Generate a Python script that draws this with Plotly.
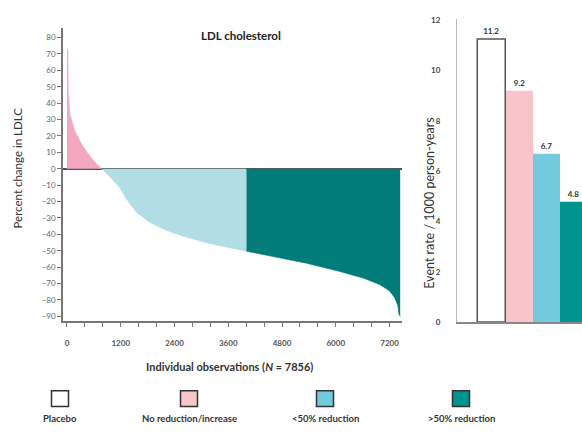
import plotly.graph_objects as go

# ---- Left panel: waterfall of percent change in LDLC ----
pink_obs = [0, 20, 30, 67, 178, 328, 475, 624, 773]
pink_pct = [73.7, 72, 47, 33, 23, 15, 9, 4, 0]

lblue_obs = [773, 959, 1181, 1331, 1554, 1850, 2222, 2668, 3188, 3707, 4006]
lblue_pct = [0, -4.9, -11.8, -18.8, -26.7, -32.7, -37.7, -41.7, -45.7, -48.7, -50.3]

teal_obs = [4006, 4599, 5343, 6086, 6605, 6977, 7200, 7312, 7386, 7408, 7438]
teal_pct = [-50.3, -53.6, -57.6, -62.6, -66.6, -70.6, -74.5, -78.5, -83.5, -88.5, -90]

x_tick_labels = [0, 1200, 2400, 3600, 4800, 6000, 7200]

# ---- Right panel: event rates ----
groups = ["Placebo", "No reduction/increase", "<50% reduction", ">50% reduction"]
event_rates = [11.2, 9.2, 6.7, 4.8]
legend_labels = ["Placebo", "No reduction/increase", "&lt;50% reduction", "&gt;50% reduction"]

FONT = "Lato"

fig = go.Figure()

area_styles = [
    (pink_obs, pink_pct, "#F4A8BF"),
    (lblue_obs, lblue_pct, "#B1DEE5"),
    (teal_obs, teal_pct, "#017C79"),
]
for xs, ys, col in area_styles:
    fig.add_trace(go.Scatter(
        x=xs, y=ys, mode="lines", fill="tozeroy",
        line=dict(width=0.5, color=col), fillcolor=col,
        xaxis="x", yaxis="y", hoverinfo="skip", showlegend=False))

bar_fill = ["#FFFFFF", "#F7C5CA", "#72CADC", "#00948F"]
fig.add_trace(go.Bar(
    x=groups, y=event_rates, xaxis="x2", yaxis="y2", width=1,
    marker=dict(color=bar_fill,
                line=dict(color=["#555555", "rgba(0,0,0,0)", "rgba(0,0,0,0)", "rgba(0,0,0,0)"],
                          width=[1.5, 0, 0, 0])),
    text=[f"{v:.1f}" for v in event_rates], textposition="outside",
    textfont=dict(family=FONT, size=8, color="#333333", weight="bold"),
    cliponaxis=False, showlegend=False, hoverinfo="skip"))

W, H = 582, 436

def px_x(p):
    return p / W

def px_y(p):
    return 1 - p / H

fig.update_layout(
    width=W, height=H, margin=dict(l=0, r=0, t=0, b=0),
    paper_bgcolor="white", plot_bgcolor="white", showlegend=False,
    font=dict(family=FONT, color="#333333"),
    bargap=0,
    xaxis=dict(domain=[px_x(63), px_x(401.7)], range=[-89, 7472], anchor="y",
               showline=True, linecolor="#777777", linewidth=1.5,
               tickmode="array", tickvals=x_tick_labels, ticks="outside", ticklen=4,
               tickcolor="#777777", tickwidth=1,
               minor=dict(dtick=400, tick0=0, ticks="outside", ticklen=4,
                          tickcolor="#777777", showgrid=False),
               showgrid=False, zeroline=False, ticklabelstandoff=9,
               tickfont=dict(size=8, color="#555555", weight="bold")),
    yaxis=dict(domain=[px_y(324), px_y(25)], range=[-93, 85.5], anchor="x",
               showline=True, linecolor="#777777", linewidth=1.5,
               dtick=10, tick0=0, ticks="outside", ticklen=4, tickcolor="#777777",
               showgrid=False, zeroline=True, zerolinecolor="#555555", zerolinewidth=1.5,
               tickfont=dict(size=8, color="#666666")),
    xaxis2=dict(domain=[px_x(457), 1.0], range=[-1.29, 3.31], anchor="y2",
                type="category", showticklabels=False, ticks="",
                showline=True, linecolor="#888888", linewidth=1.5,
                showgrid=False, zeroline=False),
    yaxis2=dict(domain=[px_y(325), px_y(15)], range=[0, 12.05], anchor="x2",
                dtick=2, showline=True, linecolor="#BBBBBB", linewidth=1,
                ticks="", showgrid=False, zeroline=False, ticklabelstandoff=14,
                tickfont=dict(size=8, color="#444444", weight="bold")),
)

annotations = [
    dict(text="<b>LDL cholesterol</b>", x=px_x(241), y=px_y(32), font=dict(size=11.5, color="#222222")),
    dict(text="Percent change in LDLC", x=px_x(18), y=px_y(168), textangle=-90,
         font=dict(size=11.5, color="#333333")),
    dict(text="<b>Individual observations (<i>N</i> = 7856)</b>", x=px_x(229), y=px_y(370),
         font=dict(size=11, color="#333333")),
    dict(text="Event rate / 1000 person-years", x=px_x(430), y=px_y(203), textangle=-90,
         font=dict(size=12.5, color="#333333")),
]

legend_cx = [60, 189, 325, 461]
for cx, lab, col in zip(legend_cx, legend_labels, bar_fill):
    fig.add_shape(type="rect", xref="paper", yref="paper",
                  x0=px_x(cx - 8.5), x1=px_x(cx + 8.5), y0=px_y(411), y1=px_y(395),
                  fillcolor=col, line=dict(color="#333333", width=1.5))
    annotations.append(dict(text=f"<b>{lab}</b>", x=px_x(cx), y=px_y(423.5),
                            font=dict(size=9.5, color="#333333")))

for a in annotations:
    a.update(xref="paper", yref="paper", showarrow=False, xanchor="center", yanchor="middle")
fig.update_layout(annotations=annotations)

fig.write_html("out.html", config={"displayModeBar": False},
               post_script="document.body.style.margin='0px';document.body.style.overflow='hidden';")
